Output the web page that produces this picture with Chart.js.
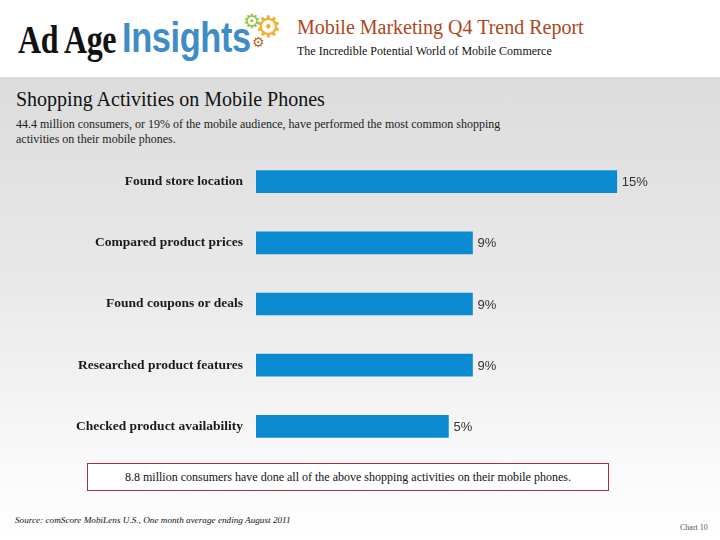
<!DOCTYPE html>
<html>
<head>
<meta charset="utf-8">
<script src="https://cdn.jsdelivr.net/npm/chart.js@4.4.0/dist/chart.umd.min.js"></script>
<style>
  html, body { margin: 0; padding: 0; }
  body { width: 720px; height: 540px; position: relative; overflow: hidden; background: #fff; font-family: "Liberation Serif", serif; }
  .band { position: absolute; left: 0; top: 77px; width: 720px; height: 463px;
          background: linear-gradient(to bottom, #dcdcdc 0%, #e9e9e9 45%, #fafafa 85%, #ffffff 100%); }
  .abs { position: absolute; white-space: nowrap; font-family: "Liberation Serif", "Times New Roman", serif; }
  #adage { left: 18px; top: 15px; font: bold 41px "Liberation Serif", serif; color: #111; transform: scaleX(0.78); transform-origin: left top; letter-spacing: -0.5px; }
  #insights { left: 122px; top: 13px; font: bold 43px "Liberation Sans", sans-serif; color: #3f8dc6; transform: scaleX(0.8); transform-origin: left top; letter-spacing: -0.5px; }
  .gear { position: absolute; font-family: "DejaVu Sans", sans-serif; line-height: 1; }
  #rtitle { left: 297px; top: 16px; font-size: 20px; color: #b0451c; }
  #rsub { left: 297px; top: 44px; font-size: 12px; color: #111; }
  #title { left: 16px; top: 88px; font-size: 20px; color: #111; }
  #sub { left: 16px; top: 117px; font-size: 12px; line-height: 15px; color: #222; white-space: normal; width: 520px; }
  #chartWrap { position: absolute; left: 0; top: 138px; width: 720px; height: 332px; }
  #note { left: 87px; top: 463px; width: 520px; height: 26px; border: 1.5px solid #a3313f; background: #fff;
          font-size: 12px; color: #111; text-align: center; line-height: 26px; }
  #source { left: 15px; top: 515px; font-size: 9.2px; font-style: italic; color: #111; }
  #chartno { left: 680px; top: 523px; font-size: 8px; color: #555; }
</style>
</head>
<body>
<div class="band"></div>
<div class="abs" id="adage">Ad Age</div>
<div class="abs" id="insights">Insights</div>
<div class="gear" style="left:243px;top:11px;font-size:20px;color:#8cc63f;">⚙</div>
<div class="gear" style="left:255px;top:12px;font-size:30px;color:#f0b030;">⚙</div>
<div class="gear" style="left:252px;top:35px;font-size:14px;color:#c0652b;">⚙</div>
<div class="abs" id="rtitle">Mobile Marketing Q4 Trend Report</div>
<div class="abs" id="rsub">The Incredible Potential World of Mobile Commerce</div>
<div class="abs" id="title">Shopping Activities on Mobile Phones</div>
<div class="abs" id="sub">44.4 million consumers, or 19% of the mobile audience, have performed the most common shopping activities on their mobile phones.</div>
<div id="chartWrap"><canvas id="myChart" width="720" height="332"></canvas></div>
<div class="abs" id="note">8.8 million consumers have done all of the above shopping activities on their mobile phones.</div>
<div class="abs" id="source">Source: comScore MobiLens U.S., One month average ending August 2011</div>
<div class="abs" id="chartno">Chart 10</div>

<script>
// categories and values
const categories = ['Found store location', 'Compared product prices', 'Found coupons or deals', 'Researched product features', 'Checked product availability'];
// bar lengths as drawn (the last bar is drawn longer than its 5% label)
const barValues = [15, 9, 9, 9, 8];
// value labels as printed next to the bars
const valueLabels = ['15%', '9%', '9%', '9%', '5%'];

// draws the % text just right of each bar
const valueLabelPlugin = {
    id: 'valueLabels',
    afterDatasetsDraw(chart) {
        const ctx = chart.ctx;
        const meta = chart.getDatasetMeta(0);
        ctx.save();
        ctx.font = '13px "Liberation Sans Narrow", "Liberation Sans", sans-serif';
        ctx.fillStyle = '#333';
        ctx.textBaseline = 'middle';
        ctx.textAlign = 'left';
        meta.data.forEach(function(bar, i) {
            ctx.fillText(valueLabels[i], bar.x + 5, bar.y + 1);
        });
        ctx.restore();
    }
};

const ctx = document.getElementById('myChart').getContext('2d');
const myChart = new Chart(ctx, {
    type: 'bar',
    data: {
        labels: categories,
        datasets: [{
            data: barValues,
            backgroundColor: '#0a8bd0',
            borderWidth: 0,
            barThickness: 22,
        }],
    },
    options: {
        indexAxis: 'y',
        responsive: false,
        animation: false,
        layout: { padding: { left: 0, right: 7, top: 0, bottom: 0 } },
        plugins: {
            legend: { display: false },
            tooltip: { enabled: false },
        },
        scales: {
            x: {
                display: false,
                min: 0,
                max: 19,
            },
            y: {
                grid: { display: false },
                border: { display: false },
                ticks: {
                    color: '#1a1a1a',
                    padding: 5,
                    font: { family: '"Liberation Serif", serif', size: 13.5, weight: 'bold' },
                },
                afterFit: function(scale) { scale.width = 256; },
            },
        },
    },
    plugins: [valueLabelPlugin],
});
</script>
</body>
</html>
